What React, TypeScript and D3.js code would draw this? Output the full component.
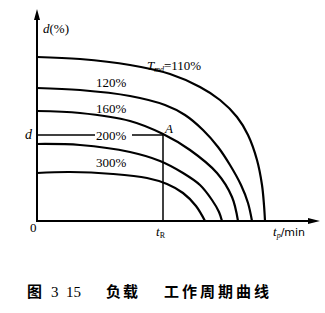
import React from "react";
import * as d3 from "d3";

// time axis (arbitrary units) and duty d (%) readings per curve
const curve110: [number, number][] = [[0,164],[43,162],[93,156],[133,147],[163,134],[183,121],[200,104],[211,86],[220,61],[225,36],[227,16],[228,0]];
const curve120: [number, number][] = [[0,133],[43,131],[93,125],[128,116],[148,106],[166,91],[181,74],[193,56],[204,36],[211,18],[215,0]];
const curve160: [number, number][] = [[0,110],[43,108],[93,100],[126,87],[153,71],[180,48],[195,24],[201,0]];
const curve200: [number, number][] = [[0,77],[43,76],[93,69],[123,60],[146,48],[163,36],[175,21],[182,9],[185,0]];
const curve300: [number, number][] = [[0,48],[33,49],[76,47],[110,43],[130,37],[146,28],[159,15],[168,0]];
const curves = [curve110, curve120, curve160, curve200, curve300];
const curveLabels = ["120%", "160%", "200%", "300%"];
const pointA: [number, number] = [126, 86];
const dLevel = 86;

export default function App() {
  const W = 325, H = 313;
  const x = d3.scaleLinear().domain([0, 281]).range([37, 318]);
  const y = d3.scaleLinear().domain([0, 210]).range([221, 11]);
  const line = d3.line<[number, number]>().x(d => x(d[0])).y(d => y(d[1])).curve(d3.curveCatmullRom.alpha(0.5));
  const serif = "'Liberation Serif', 'DejaVu Serif', serif";
  const labelY = [87, 113, 140, 167];
  return (
    <svg width={W} height={H} style={{ position: "absolute", left: 0, top: 0, background: "#fff" }}>
      {/* axes */}
      <line x1={x(0)} y1={y(0)} x2={x(0)} y2={16} stroke="#000" strokeWidth={2} />
      <path d={`M${x(0)},9 L${x(0) - 3},20 L${x(0) + 3},20 Z`} fill="#000" />
      <line x1={x(0) - 1} y1={y(0)} x2={312} y2={y(0)} stroke="#000" strokeWidth={2} />
      <path d={`M320,${y(0)} L308,${y(0) - 3} L308,${y(0) + 3} Z`} fill="#000" />
      {curves.map((c, i) => (
        <path key={i} d={line(c) || ""} fill="none" stroke="#000" strokeWidth={2.2} />
      ))}
      {/* d line and t_R */}
      <line x1={x(0)} y1={y(dLevel)} x2={95} y2={y(dLevel)} stroke="#000" strokeWidth={1.5} />
      <line x1={132} y1={y(dLevel)} x2={x(pointA[0])} y2={y(dLevel)} stroke="#000" strokeWidth={1.5} />
      <line x1={x(pointA[0])} y1={y(pointA[1])} x2={x(pointA[0])} y2={y(0)} stroke="#000" strokeWidth={1.5} />
      {/* labels */}
      <text x={147} y={70} fontFamily={serif} fontSize={13}>
        <tspan fontStyle="italic">T</tspan>
        <tspan fontStyle="italic" fontSize={8} dy={2}>md</tspan>
        <tspan dy={-2}>=110%</tspan>
      </text>
      {curveLabels.map((t, i) => (
        <text key={t} x={96} y={labelY[i]} fontFamily={serif} fontSize={13}>{t}</text>
      ))}
      <text x={43} y={33} fontFamily={serif} fontSize={13}>
        <tspan fontStyle="italic">d</tspan>(%)
      </text>
      <text x={25} y={139} fontFamily={serif} fontSize={14} fontStyle="italic">d</text>
      <text x={165} y={133} fontFamily={serif} fontSize={13} fontStyle="italic">A</text>
      <text x={30} y={232} fontFamily={serif} fontSize={13}>0</text>
      <text x={156} y={236} fontFamily={serif} fontSize={13}>
        <tspan fontStyle="italic">t</tspan>
        <tspan fontSize={8} dy={2}>R</tspan>
      </text>
      <text x={273} y={236} fontFamily={serif} fontSize={13}>
        <tspan fontStyle="italic">t</tspan>
        <tspan fontSize={8} dy={2} fontStyle="italic">p</tspan>
        <tspan dy={-2} fontFamily="'DejaVu Sans', sans-serif" fontSize={11}>/min</tspan>
      </text>
      {/* caption */}
      <g fontFamily="'Noto Sans CJK SC', sans-serif" fontSize={15} fontWeight={700}>
        <text x={27} y={297}>图</text>
        <text x={51} y={297} fontFamily={serif} fontWeight={400}>3</text>
        <text x={66} y={297} fontFamily={serif} fontWeight={400}>15</text>
        <text x={106} y={297} letterSpacing={2}>负载</text>
        <text x={164} y={297} letterSpacing={3}>工作周期曲线</text>
      </g>
    </svg>
  );
}
